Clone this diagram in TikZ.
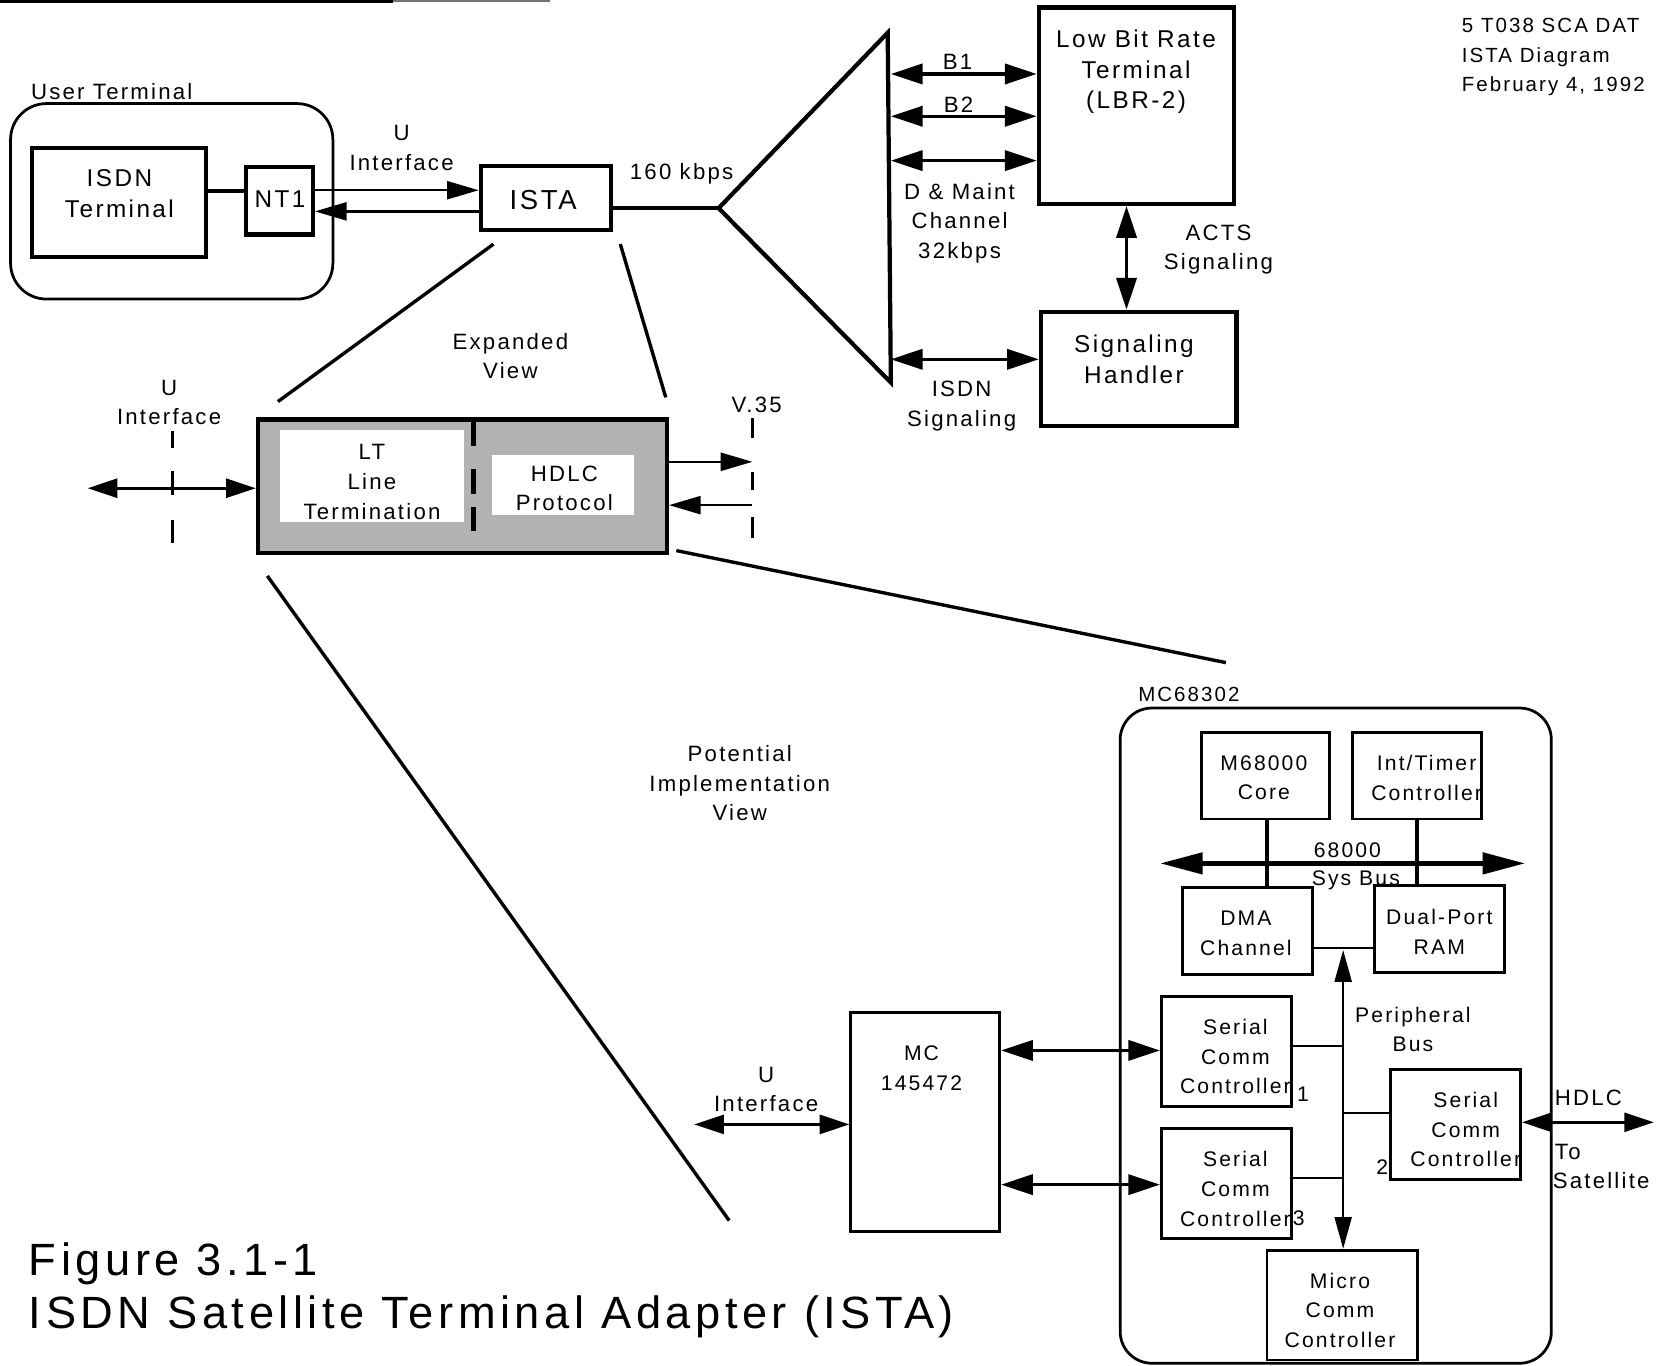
\documentclass[tikz,border=0pt]{standalone}
\usepackage{fontspec}
\setmainfont{Liberation Sans}[LetterSpace=10]
\usetikzlibrary{arrows.meta,fit}
\tikzset{
 sqbox/.style={draw, line width=2pt, inner sep=0pt, align=center},
 thinbox/.style={draw, line width=1.3pt, inner sep=0pt, align=center},
 lbl/.style={font=\fontsize{10.5}{14}\selectfont, align=center, inner sep=0pt},
 lblB/.style={font=\fontsize{11.5}{14.5}\selectfont, align=center, inner sep=0pt},
 lblS/.style={font=\fontsize{10}{14}\selectfont, align=center, inner sep=0pt},
 thinarr/.style={line width=1.2pt, -{Triangle[length=15pt,width=8.5pt]}},
 dbl/.style={line width=1.6pt, {Triangle[length=15pt,width=9.5pt]}-{Triangle[length=15pt,width=9.5pt]}},
 dblthin/.style={line width=1.2pt, {Triangle[length=14pt,width=9pt]}-{Triangle[length=14pt,width=9pt]}},
 seg/.style={line width=1.3pt},
 heavy/.style={line width=2pt},
}
\begin{document}
\begin{tikzpicture}[x=0.5pt,y=-0.5pt]
\useasboundingbox (0,0) rectangle (1568,1292);
% top rule
\draw[line width=1.6pt] (0,1.6) -- (372,1.6);
\draw[line width=1pt, black!55] (372,1.2) -- (520,1.2);

% ---------- user terminal ----------
\node[lbl, anchor=west] (utlabel) at (29,87) {User Terminal};
\node[draw, line width=1.3pt, rounded corners=17pt, inner sep=0pt, fit={(10,98) (315,283)}] (ut) {};
\node[sqbox, fit={(30,140) (195,243)}] (isdn) {};
\node[lblB] (isdnt) at (113,183) {ISDN\\Terminal};
\node[sqbox, fit={(233,158) (296,222)}] (nt1) {};
\node[lblB] (nt1t) at (265,188) {NT1};
\draw[heavy] (isdn.east |- 0,181) -- (nt1.west |- 0,181);
\node[sqbox, fit={(455,157) (578,218)}] (ista) {};
\node[font=\fontsize{13}{15}\selectfont, inner sep=0pt] (istat) at (514,189) {ISTA};
\draw[thinarr] (nt1.east |- 0,180) -- (ista.west |- 0,180);
\draw[thinarr] (ista.west |- 0,200) -- (nt1.east |- 0,200);
\node[lbl] (uif) at (380,140) {U\\Interface};
\node[lbl] (kbps) at (645,164) {160 kbps};

% ---------- triangle ----------
\coordinate (apex) at (680,197);
\coordinate (ttop) at (840,31);
\coordinate (tbot) at (843,362);
\draw[heavy, line join=miter] (apex) -- (ttop) -- (tbot) -- cycle;
\draw[heavy] (ista.east |- apex) -- (apex);

% ---------- LBR ----------
\node[sqbox, fit={(983,7) (1168,193)}] (lbr) {};
\node[lblB] (lbrtext) at (1075,68) {Low Bit Rate\\Terminal\\(LBR-2)};
\node[sqbox, fit={(985,295) (1170,403)}] (sh) {};
\node[lblB] (shtext) at (1073,340) {Signaling\\Handler};
\coordinate (b1) at (843,70);
\coordinate (b2) at (843,110);
\coordinate (b3) at (843,152);
\draw[dbl] (b1) -- (lbr.west |- b1);
\draw[dbl] (b2) -- (lbr.west |- b2);
\draw[dbl] (b3) -- (lbr.west |- b3);
\node[lbl] (b1l) at (906,59) {B1};
\node[lbl] (b2l) at (907,99) {B2};
\node[lbl] (dml) at (908,211) {D \& Maint\\Channel\\32kbps};
\draw[dbl] (lbr.south -| 1066,0) -- (sh.north -| 1066,0);
\node[lbl] (acts) at (1153,236) {ACTS\\Signaling};
\coordinate (isg) at (843,340);
\draw[dbl] (isg) -- (sh.west |- isg);
\node[lbl] (isgl) at (910,384) {ISDN\\Signaling};

% note
\node[font=\fontsize{9.7}{14}\selectfont, align=left, anchor=north west, inner sep=0pt] (note) at (1383,17) {5 T038 SCA DAT\\ISTA Diagram\\February 4, 1992};

% ---------- expanded view ----------
\draw[line width=1.6pt] (467,231) -- (263,380);
\draw[line width=1.6pt] (587,231) -- (630,376);
\node[lbl] (expl) at (483,337) {Expanded\\View};
\node[sqbox, fill=black!30, fit={(244,397) (631,523)}] (exp) {};
\node[fill=white, inner sep=0pt, fit={(265,407) (439,494)}] (lt) {};
\node[lbl] (lttext) at (352,456) {LT\\Line\\Termination};
\node[fill=white, inner sep=0pt, fit={(466,431) (600,487)}] (hdlc) {};
\node[lbl] (hdlctext) at (534,462) {HDLC\\Protocol};
\draw[line width=2pt] (448,397) -- (448,422) (448,444) -- (448,467) (448,480) -- (448,502);

\node[lbl] (uleftl) at (160,381) {U\\Interface};
\draw[seg] (163,408) -- (163,424) (163,446) -- (163,468) (163,492) -- (163,514);
\coordinate (uleft) at (83,462);
\draw[dblthin] (uleft) -- (exp.west |- uleft);

\node[lbl] (v35) at (716,383) {V.35};
\draw[seg] (712,396) -- (712,414) (712,447) -- (712,464) (712,489) -- (712,509);
\coordinate (v1) at (712,437);
\coordinate (v2) at (712,478);
\draw[thinarr] (exp.east |- v1) -- (v1);
\draw[thinarr] (v2) -- (exp.east |- v2);

% ---------- implementation view ----------
\draw[line width=1.6pt] (253,545) -- (690,1155);
\draw[line width=1.6pt] (640,521) -- (1160,627);
\node[lbl] (piv) at (700,741) {Potential\\Implementation\\View};

\node[font=\fontsize{9.7}{14}\selectfont, inner sep=0pt] (mcl) at (1125,657) {MC68302};
\node[draw, line width=1.3pt, rounded corners=15pt, inner sep=0pt, fit={(1060,670) (1468,1290)}] (mc) {};
\node[thinbox, fit={(1137,693) (1258,775)}] (m68) {};
\node[lblS] (m68t) at (1196,736) {M68000\\Core};
\node[thinbox, fit={(1280,693) (1402,775)}] (int) {};
\node[lblS] (inttext) at (1350,736) {Int/Timer\\Controller};
\node[thinbox, fit={(1119,840) (1242,922)}] (dma) {};
\node[lblS] (dmat) at (1179,883) {DMA\\Channel};
\node[thinbox, fit={(1301,838) (1424,920)}] (dpr) {};
\node[lblS] (dprt) at (1362,882) {Dual-Port\\RAM};
\draw[heavy] (m68.south -| 1199,0) -- (dma.north -| 1199,0);
\draw[heavy] (int.south -| 1341,0) -- (dpr.north -| 1341,0);
\draw[line width=2pt, {Triangle[length=20pt,width=10pt]}-{Triangle[length=20pt,width=10pt]}] (1098,817) -- (1443,817);
\node[lblS] (sb1) at (1275,805) {68000};
\node[lblS] (sb2) at (1283,833) {Sys Bus};
\draw[line width=1pt] (dma.east |- 0,897) -- (dpr.west |- 0,897);

\node[thinbox, fit={(1099,943) (1222,1047)}] (scc1) {};
\node[lblS] (scc1t) at (1169,1000) {Serial\\Comm\\Controller};
\node[lblS] (n1) at (1233,1035) {1};
\node[thinbox, fit={(1099,1068) (1222,1172)}] (scc3) {};
\node[lblS] (scc3t) at (1169,1125) {Serial\\Comm\\Controller};
\node[lblS] (n3) at (1229,1153) {3};
\node[thinbox, fit={(1316,1012) (1439,1116)}] (scc2) {};
\node[lblS] (scc2t) at (1387,1069) {Serial\\Comm\\Controller};
\node[lblS] (n2) at (1308,1104) {2};
\node[thinbox, fit={(1199,1183) (1341,1287)}] (mcc) {};
\node[lblS] (mcct) at (1268,1240) {Micro\\Comm\\Controller};

\coordinate (pbtop) at (1271,899);
\draw[line width=1.1pt, {Triangle[length=15pt,width=8pt]}-{Triangle[length=15pt,width=8pt]}] (pbtop) -- (mcc.north -| pbtop);
\node[lblS] (pbl) at (1337,974) {Peripheral\\Bus};
\draw[line width=1.1pt] (scc1.east |- 0,990) -- (1271,990);
\draw[line width=1.1pt] (scc3.east |- 0,1115) -- (1271,1115);
\draw[line width=1.1pt] (1271,1053) -- (scc2.west |- 0,1053);

\coordinate (hd) at (1565,1062);
\draw[dblthin] (scc2.east |- hd) -- (hd);
\node[lbl] (hdl) at (1503,1039) {HDLC};
\node[lbl, anchor=west] (tol) at (1471,1090) {To};
\node[lbl, anchor=west] (satl) at (1469,1117) {Satellite};

\node[thinbox, fit={(805,958) (946,1165)}] (mc145) {};
\node[lblS] (mc145t) at (872,1011) {MC\\145472};
\draw[dbl] (mc145.east |- 0,994) -- (scc1.west |- 0,994);
\draw[dbl] (mc145.east |- 0,1121) -- (scc3.west |- 0,1121);
\node[lbl] (ubl) at (725,1031) {U\\Interface};
\coordinate (ub) at (657,1064);
\draw[dblthin] (ub) -- (mc145.west |- ub);

% ---------- title ----------
\node[anchor=base west, inner sep=0pt, font=\fontsize{21.4}{25}\selectfont] (fig) at (27,1207) {Figure 3.1-1};
\node[anchor=base west, inner sep=0pt, font=\fontsize{21.4}{25}\selectfont] (cap) at (27,1257) {ISDN Satellite Terminal Adapter (ISTA)};
\end{tikzpicture}
\end{document}
